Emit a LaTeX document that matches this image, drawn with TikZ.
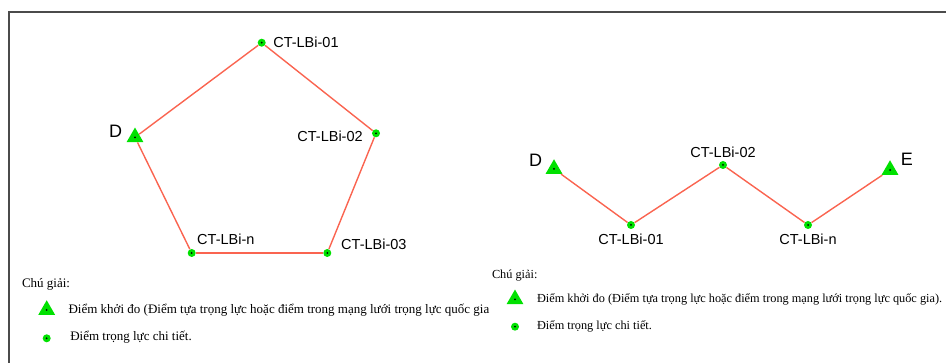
\documentclass[tikz,border=0pt]{standalone}
\usepackage{fontspec}
\setmainfont{Liberation Serif}
\setsansfont{Liberation Sans}
\usepackage{xcolor}
\usetikzlibrary{shapes.geometric,positioning}
\definecolor{ptgreen}{RGB}{0,225,0}
\definecolor{linered}{RGB}{250,100,80}
\definecolor{framegray}{RGB}{75,75,75}

\begin{document}
\begin{tikzpicture}[x=1pt,y=1pt,auto,semithick]
\tikzstyle{detail}=[circle,fill=ptgreen,draw=none,minimum size=8pt,inner sep=0pt]
\tikzstyle{origin}=[regular polygon,regular polygon sides=3,fill=ptgreen,draw=none,minimum size=19.5pt,inner sep=0pt]
\tikzstyle{lbl}=[inner sep=1pt,font=\sffamily\fontsize{14.5}{14.5}\selectfont]
\tikzstyle{biglbl}=[inner sep=1pt,font=\sffamily\fontsize{18}{18}\selectfont]
\tikzstyle{legtext}=[inner sep=1pt,anchor=base west,font=\fontsize{13}{13}\selectfont]
\tikzstyle{legtextR}=[inner sep=1pt,anchor=base west,font=\fontsize{12.3}{12.3}\selectfont]
\tikzstyle{traverse}=[linered,line width=1.4pt]

\useasboundingbox (0,0) rectangle (946,363);
\draw[framegray,line width=2.3pt] (8.8,0) -- (8.8,350.8) -- (946,350.8);

% closed traverse
\node[origin] (D1) at (135,225.7) {};
\node[detail] (a1) at (261.7,320.3) {};
\node[detail] (a2) at (376,229.7) {};
\node[detail] (a3) at (327.3,110) {};
\node[detail] (an) at (191.7,110) {};

\node[biglbl,left=5.5pt of D1,yshift=5.5pt] (lD1) {D};
\node[lbl,right=6pt of a1] (la1) {CT-LBi-01};
\node[lbl,left=7.7pt of a2,yshift=-3.4pt] (la2) {CT-LBi-02};
\node[lbl,above right=-0.8pt and 9.6pt of a3] (la3) {CT-LBi-03};
\node[lbl,above right=4.2pt and 1.2pt of an] (lan) {CT-LBi-n};

\path[traverse]
(D1) edge (a1)
(a1) edge (a2)
(a2) edge (a3)
(a3) edge (an)
(an) edge (D1);

% open traverse
\node[origin] (D2) at (554,194) {};
\node[detail] (b1) at (631,138) {};
\node[detail] (b2) at (723,198) {};
\node[detail] (bn) at (808,138) {};
\node[origin] (E) at (890,193) {};

\node[biglbl,left=4.5pt of D2,yshift=8.5pt] (lD2) {D};
\node[biglbl,right=3.5pt of E,yshift=10.5pt] (lE) {E};
\node[lbl,below=3pt of b1] (lb1) {CT-LBi-01};
\node[lbl,above=2pt of b2] (lb2) {CT-LBi-02};
\node[lbl,below=3pt of bn] (lbn) {CT-LBi-n};

\path[traverse]
(D2) edge (b1)
(b1) edge (b2)
(b2) edge (bn)
(bn) edge (E);

% legends
\node[legtext] (keyL) at (20.7,75) {Chú giải:};
\node[origin] (symL1) at (46.7,53) {};
\node[legtext] (txtL1) at (67.3,49.5) {Điểm khởi đo (Điểm tựa trọng lực hoặc điểm trong mạng lưới trọng lực quốc gia};
\node[detail] (symL2) at (46.7,24.7) {};
\node[legtext] (txtL2) at (69,22) {Điểm trọng lực chi tiết.};

\node[legtextR] (keyR) at (490.7,84) {Chú giải:};
\node[origin] (symR1) at (515,63.7) {};
\node[legtextR] (txtR1) at (535.7,60) {Điểm khởi đo (Điểm tựa trọng lực hoặc điểm trong mạng lưới trọng lực quốc gia).};
\node[detail] (symR2) at (515,36.3) {};
\node[legtextR] (txtR2) at (535.7,33.7) {Điểm trọng lực chi tiết.};

\foreach \p in {D1,a1,a2,a3,an,D2,b1,b2,bn,E,symL1,symL2,symR1,symR2}
  \fill[black] (\p.center) circle (1pt);
\end{tikzpicture}
\end{document}
